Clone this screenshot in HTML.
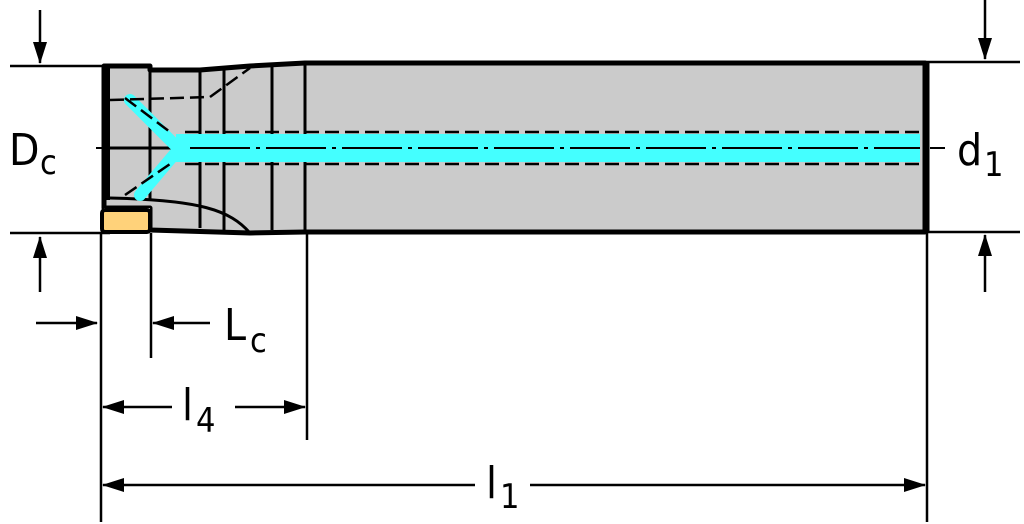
<!DOCTYPE html>
<html><head><style>html,body{margin:0;padding:0;background:#fff}svg{display:block}text{font-family:"DejaVu Sans Condensed","Liberation Sans",sans-serif;fill:#000}</style></head><body>
<svg width="1024" height="524" viewBox="0 0 1024 524" xmlns="http://www.w3.org/2000/svg">
<defs>
<marker id="a" markerWidth="22" markerHeight="14" refX="21" refY="7" orient="auto" markerUnits="userSpaceOnUse"><path d="M0,0 L22,7 L0,14z" fill="#000"/></marker>
</defs>
<g stroke="#000" stroke-width="2.5">
<line x1="10" y1="66" x2="110" y2="66"/>
<line x1="10" y1="233" x2="110" y2="233"/>
<line x1="918" y1="62" x2="1020" y2="62"/>
<line x1="918" y1="232" x2="1020" y2="232"/>
</g>
<path d="M104,66 L150,66 L150,70 L200,70 L250,66 L305,63 L925,63 L925,232 L305,232 L250,233 L150,230 L150,208 L104,208 Z" fill="#cbcbcb" stroke="#000" stroke-width="5" stroke-linejoin="round"/>
<rect x="104" y="208" width="46" height="25" fill="#cbcbcb"/>
<line x1="926" y1="63" x2="926" y2="232" stroke="#000" stroke-width="7"/>
<line x1="106" y1="66" x2="106" y2="200" stroke="#000" stroke-width="8"/>
<rect x="102" y="210" width="48" height="22" rx="3" fill="#ffd27a" stroke="#000" stroke-width="4"/>
<g stroke="#000" stroke-width="3" fill="none">
<line x1="150" y1="70" x2="150" y2="200"/>
<line x1="200" y1="72" x2="200" y2="228"/>
<line x1="224" y1="70" x2="224" y2="230"/>
<line x1="272" y1="66" x2="272" y2="230"/>
<line x1="305" y1="63" x2="305" y2="232"/>
<line x1="104" y1="148" x2="178" y2="148"/>
<path d="M110,198 C200,200 230,210 250,233"/>
</g>
<g stroke="#44ffff" fill="none">
<line x1="176" y1="148" x2="920" y2="148" stroke-width="28"/>
<line x1="130" y1="100" x2="175" y2="145" stroke-width="12" stroke-linecap="round"/>
<line x1="140" y1="195" x2="178" y2="150" stroke-width="12" stroke-linecap="round"/>
</g>
<g stroke="#000" stroke-width="2.5" fill="none" stroke-dasharray="14,6">
<line x1="185" y1="132" x2="920" y2="132"/>
<line x1="185" y1="164" x2="920" y2="164"/>
<line x1="110" y1="100" x2="210" y2="97"/>
<line x1="210" y1="97" x2="250" y2="68"/>
<line x1="125" y1="98" x2="170" y2="132"/>
<line x1="125" y1="195" x2="170" y2="164"/>
</g>
<line x1="190" y1="148" x2="920" y2="148" stroke="#000" stroke-width="2" stroke-dasharray="60,6,4,6"/>
<line x1="930" y1="148" x2="945" y2="148" stroke="#000" stroke-width="2"/>
<line x1="96" y1="148" x2="104" y2="148" stroke="#000" stroke-width="2"/>
<g stroke="#000" stroke-width="2.5">
<line x1="101" y1="233" x2="101" y2="522"/>
<line x1="151" y1="233" x2="151" y2="358"/>
<line x1="307" y1="233" x2="307" y2="440"/>
<line x1="927" y1="232" x2="927" y2="522"/>
</g>
<g stroke="#000" stroke-width="2.5" marker-end="url(#a)">
<line x1="40" y1="10" x2="40" y2="63"/>
<line x1="40" y1="292" x2="40" y2="237"/>
<line x1="985" y1="0" x2="985" y2="59"/>
<line x1="985" y1="292" x2="985" y2="235"/>
<line x1="36" y1="323" x2="97" y2="323"/>
<line x1="210" y1="323" x2="153" y2="323"/>
<line x1="172" y1="407" x2="103" y2="407"/>
<line x1="235" y1="407" x2="305" y2="407"/>
<line x1="475" y1="485" x2="103" y2="485"/>
<line x1="530" y1="485" x2="925" y2="485"/>
</g>
<text x="9" y="165" font-size="44">D</text><text x="40" y="174" font-size="34">c</text>
<text x="957" y="165" font-size="44">d</text><text x="984" y="176" font-size="34">1</text>
<text x="224" y="340" font-size="44">L</text><text x="250" y="352" font-size="34">c</text>
<text x="182" y="420" font-size="44">l</text><text x="196" y="432" font-size="34">4</text>
<text x="486" y="498" font-size="44">l</text><text x="500" y="508" font-size="34">1</text>
</svg>
</body></html>
